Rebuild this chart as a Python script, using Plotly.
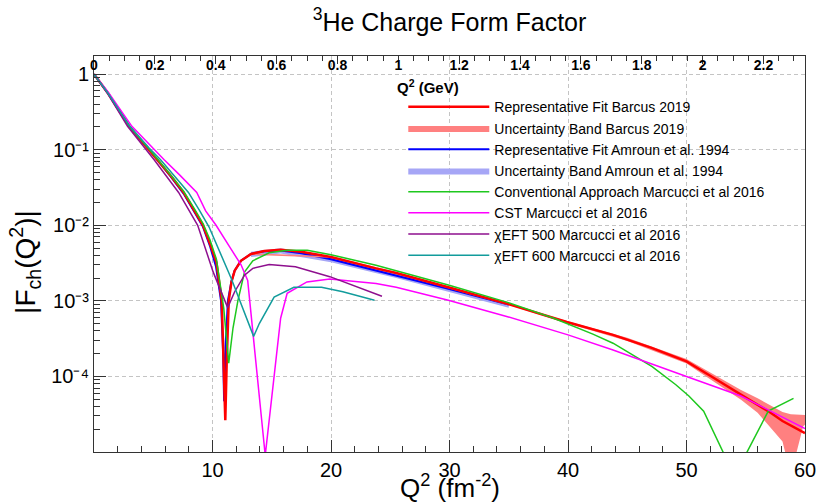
import plotly.graph_objects as go

# ---------------- data ----------------
GEV2_TO_FM2 = 25.68  # 1 GeV^2 in fm^-2 (top axis conversion)

# Representative Fit Barcus 2019
red_q2 = [0, 1.17, 2.97, 4.65, 5.33, 6.5, 7.56, 8.5, 9.2, 9.8, 10.33, 10.78, 10.98, 11.08,
          11.2, 11.37, 11.6, 11.87, 12.4, 13.25, 14.37, 15.75, 17.5, 20, 23.8, 25.5, 29.9,
          34.9, 39.9, 42.1, 43.8, 47, 50, 52, 54.6, 56, 57.1, 58.1, 60]
red_F = [1.0, 0.562, 0.204, 0.100, 0.0741, 0.0447, 0.0272, 0.0155, 0.0100, 5.62e-3, 3.24e-3,
         1.00e-3, 1.32e-4, 2.63e-5, 1.58e-4, 1.00e-3, 1.78e-3, 2.51e-3, 3.39e-3, 4.17e-3,
         4.57e-3, 4.73e-3, 4.47e-3, 3.80e-3, 2.69e-3, 2.34e-3, 1.51e-3, 9.12e-4, 5.25e-4,
         4.17e-4, 3.55e-4, 2.40e-4, 1.58e-4, 1.02e-4, 5.75e-5, 4.27e-5, 3.31e-5, 2.57e-5, 1.78e-5]

# Uncertainty Band Barcus 2019
redband_q2 = [13.25, 20, 25.5, 29.9, 34.9, 39.9, 42.1, 45, 50, 52, 54.6, 56, 57.1, 58.1, 58.8, 59.85, 60]
redband_hi = [4.27e-3, 3.89e-3, 2.40e-3, 1.55e-3, 9.33e-4, 5.43e-4, 4.37e-4, 3.24e-4, 1.70e-4,
              1.12e-4, 6.61e-5, 5.13e-5, 4.17e-5, 3.39e-5, 3.16e-5, 3.09e-5, 3.09e-5]
redband_lo = [4.07e-3, 3.72e-3, 2.29e-3, 1.48e-3, 8.91e-4, 5.07e-4, 3.98e-4, 2.95e-4, 1.48e-4,
              9.12e-5, 4.90e-5, 3.31e-5, 2.09e-5, 1.38e-5, 5.0e-6, 2.19e-5, 2.29e-5]

# Representative Fit Amroun et al. 1994
blue_q2 = [0, 1.17, 2.97, 4.65, 5.33, 6.5, 7.56, 8.5, 9.2, 9.8, 10.3, 10.72, 10.9, 10.98, 11.1,
           11.3, 11.6, 11.87, 12.4, 13.25, 14.37, 15.75, 17.5, 20, 23.8, 25.5, 29.9, 35]
blue_F = [1.0, 0.562, 0.204, 0.100, 0.0741, 0.0437, 0.0263, 0.0148, 9.55e-3, 5.25e-3, 2.82e-3,
          1.00e-3, 2.0e-4, 4.68e-5, 2.51e-4, 1.00e-3, 1.82e-3, 2.51e-3, 3.39e-3, 4.17e-3,
          4.52e-3, 4.62e-3, 4.27e-3, 3.55e-3, 2.51e-3, 2.19e-3, 1.45e-3, 8.91e-4]

# Uncertainty Band Amroun et al. 1994
blueband_q2 = [13.25, 15.75, 20, 25.5, 29.9, 35]
blueband_hi = [4.47e-3, 4.95e-3, 3.80e-3, 2.34e-3, 1.55e-3, 9.55e-4]
blueband_lo = [3.80e-3, 4.22e-3, 3.24e-3, 2.00e-3, 1.32e-3, 8.13e-4]

# Conventional Approach Marcucci et al 2016
green_q2 = [0, 1.17, 2.97, 4.65, 6.5, 7.56, 8.5, 9.2, 9.8, 10.33, 10.95, 11.37, 11.73, 12.14,
            12.7, 13.4, 14.78, 16.3, 18, 20, 23.8, 25.5, 29.9, 34.9, 38.8, 42.1, 43.8, 47.1,
            49.1, 50.2, 51.45, 54.05, 56.9, 59.03]
green_F = [1.0, 0.562, 0.204, 0.102, 0.0457, 0.0282, 0.0162, 0.0105, 6.31e-3, 3.55e-3, 7.94e-4,
           1.50e-4, 4.37e-4, 1.00e-3, 2.40e-3, 3.39e-3, 4.32e-3, 4.68e-3, 4.68e-3, 4.07e-3,
           2.95e-3, 2.51e-3, 1.62e-3, 9.55e-4, 5.89e-4, 3.63e-4, 2.75e-4, 1.35e-4, 7.76e-5,
           5.50e-5, 3.47e-5, 4.79e-6, 3.47e-5, 5.13e-5]

# CST Marcucci et al 2016
mag_q2 = [0, 1.2, 3.2, 5.06, 5.9, 7.2, 8.67, 9.42, 10.3, 11.5, 12.4, 12.97, 14.45, 15.75, 16.3,
          17.97, 19.9, 23.8, 25.5, 29.9, 34.9, 40, 43.8, 50, 54.6, 60]
mag_F = [1.0, 0.575, 0.204, 0.100, 0.0741, 0.0468, 0.0272, 0.0155, 0.0100, 5.01e-3, 3.02e-3,
         1.86e-3, 9.0e-6, 5.89e-4, 1.26e-3, 1.78e-3, 1.95e-3, 1.70e-3, 1.51e-3, 1.02e-3,
         6.17e-4, 3.55e-4, 2.24e-4, 1.00e-4, 5.50e-5, 2.04e-5]

# chiEFT 500 Marcucci et al 2016
pur_q2 = [0, 1.17, 2.83, 4.37, 5.06, 7.14, 8.0, 8.75, 10.06, 11.28, 11.87, 12.7, 13.4, 14.78,
          17.0, 19.9, 24.3]
pur_F = [1.0, 0.550, 0.204, 0.100, 0.0741, 0.0272, 0.0158, 0.0100, 2.40e-3, 8.13e-4, 1.32e-3,
         2.19e-3, 2.69e-3, 3.02e-3, 2.82e-3, 2.09e-3, 1.15e-3]

# chiEFT 600 Marcucci et al 2016
teal_q2 = [0, 1.17, 2.97, 4.65, 5.6, 7.97, 8.9, 9.7, 11.6, 13.47, 13.95, 15.2, 16.87, 19.2, 21.0, 23.67]
teal_F = [1.0, 0.562, 0.209, 0.105, 0.0741, 0.0272, 0.0158, 9.55e-3, 1.95e-3, 3.39e-4, 5.01e-4,
          1.12e-3, 1.51e-3, 1.51e-3, 1.32e-3, 1.02e-3]

# axis ticks
x_ticks = [10, 20, 30, 40, 50, 60]
y_ticks = [1, 1e-1, 1e-2, 1e-3, 1e-4]
y_ticktext = ["1", "10\u207b\u00b9", "10\u207b\u00b2", "10\u207b\u00b3", "10\u207b\u2074"]
top_ticks = [0, 0.2, 0.4, 0.6, 0.8, 1.0, 1.2, 1.4, 1.6, 1.8, 2.0, 2.2]
top_ticktext = ["<b>0</b>", "<b>0.2</b>", "<b>0.4</b>", "<b>0.6</b>", "<b>0.8</b>", "<b>1</b>",
                "<b>1.2</b>", "<b>1.4</b>", "<b>1.6</b>", "<b>1.8</b>", "<b>2</b>", "<b>2.2</b>"]

FONT = "Liberation Sans, Arial, Helvetica, sans-serif"

fig = go.Figure()

def band(xs, hi, lo, color, name, rank):
    return go.Scatter(x=xs + xs[::-1], y=hi + lo[::-1], fill="toself", fillcolor=color,
                      mode="lines", line=dict(width=0, color=color), name=name,
                      legendrank=rank, hoverinfo="skip")

fig.add_trace(band(blueband_q2, blueband_hi, blueband_lo, "#a6a6f6", "Uncertainty Band Amroun et al. 1994", 4))
fig.add_trace(go.Scatter(x=blue_q2, y=blue_F, mode="lines", line=dict(color="#0000ff", width=2),
                         name="Representative Fit Amroun et al. 1994", legendrank=3))
fig.add_trace(band(redband_q2, redband_hi, redband_lo, "#ff8080", "Uncertainty Band Barcus 2019", 2))
fig.add_trace(go.Scatter(x=red_q2, y=red_F, mode="lines", line=dict(color="#ff0000", width=2.5),
                         name="Representative Fit Barcus 2019", legendrank=1))
fig.add_trace(go.Scatter(x=green_q2, y=green_F, mode="lines", line=dict(color="#1ec81e", width=1.5),
                         name="Conventional Approach Marcucci et al 2016", legendrank=5))
fig.add_trace(go.Scatter(x=mag_q2, y=mag_F, mode="lines", line=dict(color="#ff00ff", width=1.5),
                         name="CST Marcucci et al 2016", legendrank=6))
fig.add_trace(go.Scatter(x=pur_q2, y=pur_F, mode="lines", line=dict(color="#8e0f8e", width=1.5),
                         name="\u03c7EFT 500 Marcucci et al 2016", legendrank=7))
fig.add_trace(go.Scatter(x=teal_q2, y=teal_F, mode="lines", line=dict(color="#129c9c", width=1.5),
                         name="\u03c7EFT 600 Marcucci et al 2016", legendrank=8))
# transparent copy of the Barcus fit on the GeV^2 axis so the top axis is drawn
fig.add_trace(go.Scatter(x=[q / GEV2_TO_FM2 for q in red_q2], y=red_F, xaxis="x2", mode="lines",
                         line=dict(width=0, color="rgba(0,0,0,0)"), opacity=0,
                         showlegend=False, hoverinfo="skip"))

axis_line = "#333333"
grid_col = "#c4c4c4"

y_minor = [m * 10.0 ** e for e in range(-5, 1) for m in range(2, 10)]

fig.update_layout(
    width=828, height=504,
    margin=dict(l=94, r=14, t=56, b=52),
    paper_bgcolor="white", plot_bgcolor="white",
    font=dict(family=FONT, color="black"),
    showlegend=True,
    legend=dict(x=0.435, y=0.911, xanchor="left", yanchor="top", bgcolor="rgba(0,0,0,0)",
                font=dict(size=14, family=FONT), itemwidth=81, tracegroupgap=0),
    title=dict(text="<sup>3</sup>He Charge Form Factor", x=0.5, xref="paper", xanchor="center",
               y=1 - 22 / 504, yref="container", yanchor="middle",
               font=dict(size=25, family=FONT)),
    xaxis=dict(range=[0, 60], tickvals=x_ticks, ticks="inside", ticklen=12, tickcolor=axis_line,
               showline=True, linecolor=axis_line, linewidth=1,
               showgrid=True, gridcolor=grid_col, griddash="4px,3px", gridwidth=1,
               zeroline=False, tickfont=dict(size=20),
               minor=dict(dtick=2, ticks="inside", ticklen=6, tickcolor=axis_line, showgrid=False)),
    xaxis2=dict(range=[0, 60 / GEV2_TO_FM2], overlaying="x", side="top", anchor="y",
                tickvals=top_ticks, ticktext=top_ticktext, ticks="inside", ticklen=8,
                tickcolor=axis_line, ticklabelposition="outside", ticklabelstandoff=-21,
                showline=True, linecolor=axis_line, linewidth=1, showgrid=False, zeroline=False,
                tickfont=dict(size=14),
                minor=dict(dtick=0.05, ticks="inside", ticklen=5, tickcolor=axis_line, showgrid=False)),
    yaxis=dict(type="log", range=[-5, 0.24], tickvals=y_ticks, ticktext=y_ticktext,
               ticks="inside", ticklen=12, tickcolor=axis_line,
               showline=True, linecolor=axis_line, linewidth=1, mirror=True,
               showgrid=True, gridcolor=grid_col, griddash="4px,3px", gridwidth=1,
               zeroline=False, tickfont=dict(size=20),
               minor=dict(tickvals=y_minor, ticks="inside", ticklen=6, tickcolor=axis_line, showgrid=False)),
)

fig.add_annotation(text="Q<sup>2</sup> (fm<sup>-2</sup>)", xref="paper", yref="paper",
                   x=0.5, y=(452 - 486) / 396, xanchor="center", yanchor="middle",
                   showarrow=False, font=dict(size=26, family=FONT))
fig.add_annotation(text="|F<sub>ch</sub>(Q<sup>2</sup>)|", xref="paper", yref="paper",
                   x=(24 - 94) / 720, y=(452 - 262) / 396, xanchor="center", yanchor="middle",
                   textangle=-90, showarrow=False, font=dict(size=28, family=FONT))
fig.add_annotation(text="<b>Q<sup>2</sup> (GeV)</b>", xref="paper", yref="paper",
                   x=(432 - 94) / 720, y=(452 - 86) / 396, xanchor="center", yanchor="middle",
                   showarrow=False, font=dict(size=15, family=FONT))

fig.write_html("out.html", post_script="document.body.style.margin='0';",
               config={"displayModeBar": False})
